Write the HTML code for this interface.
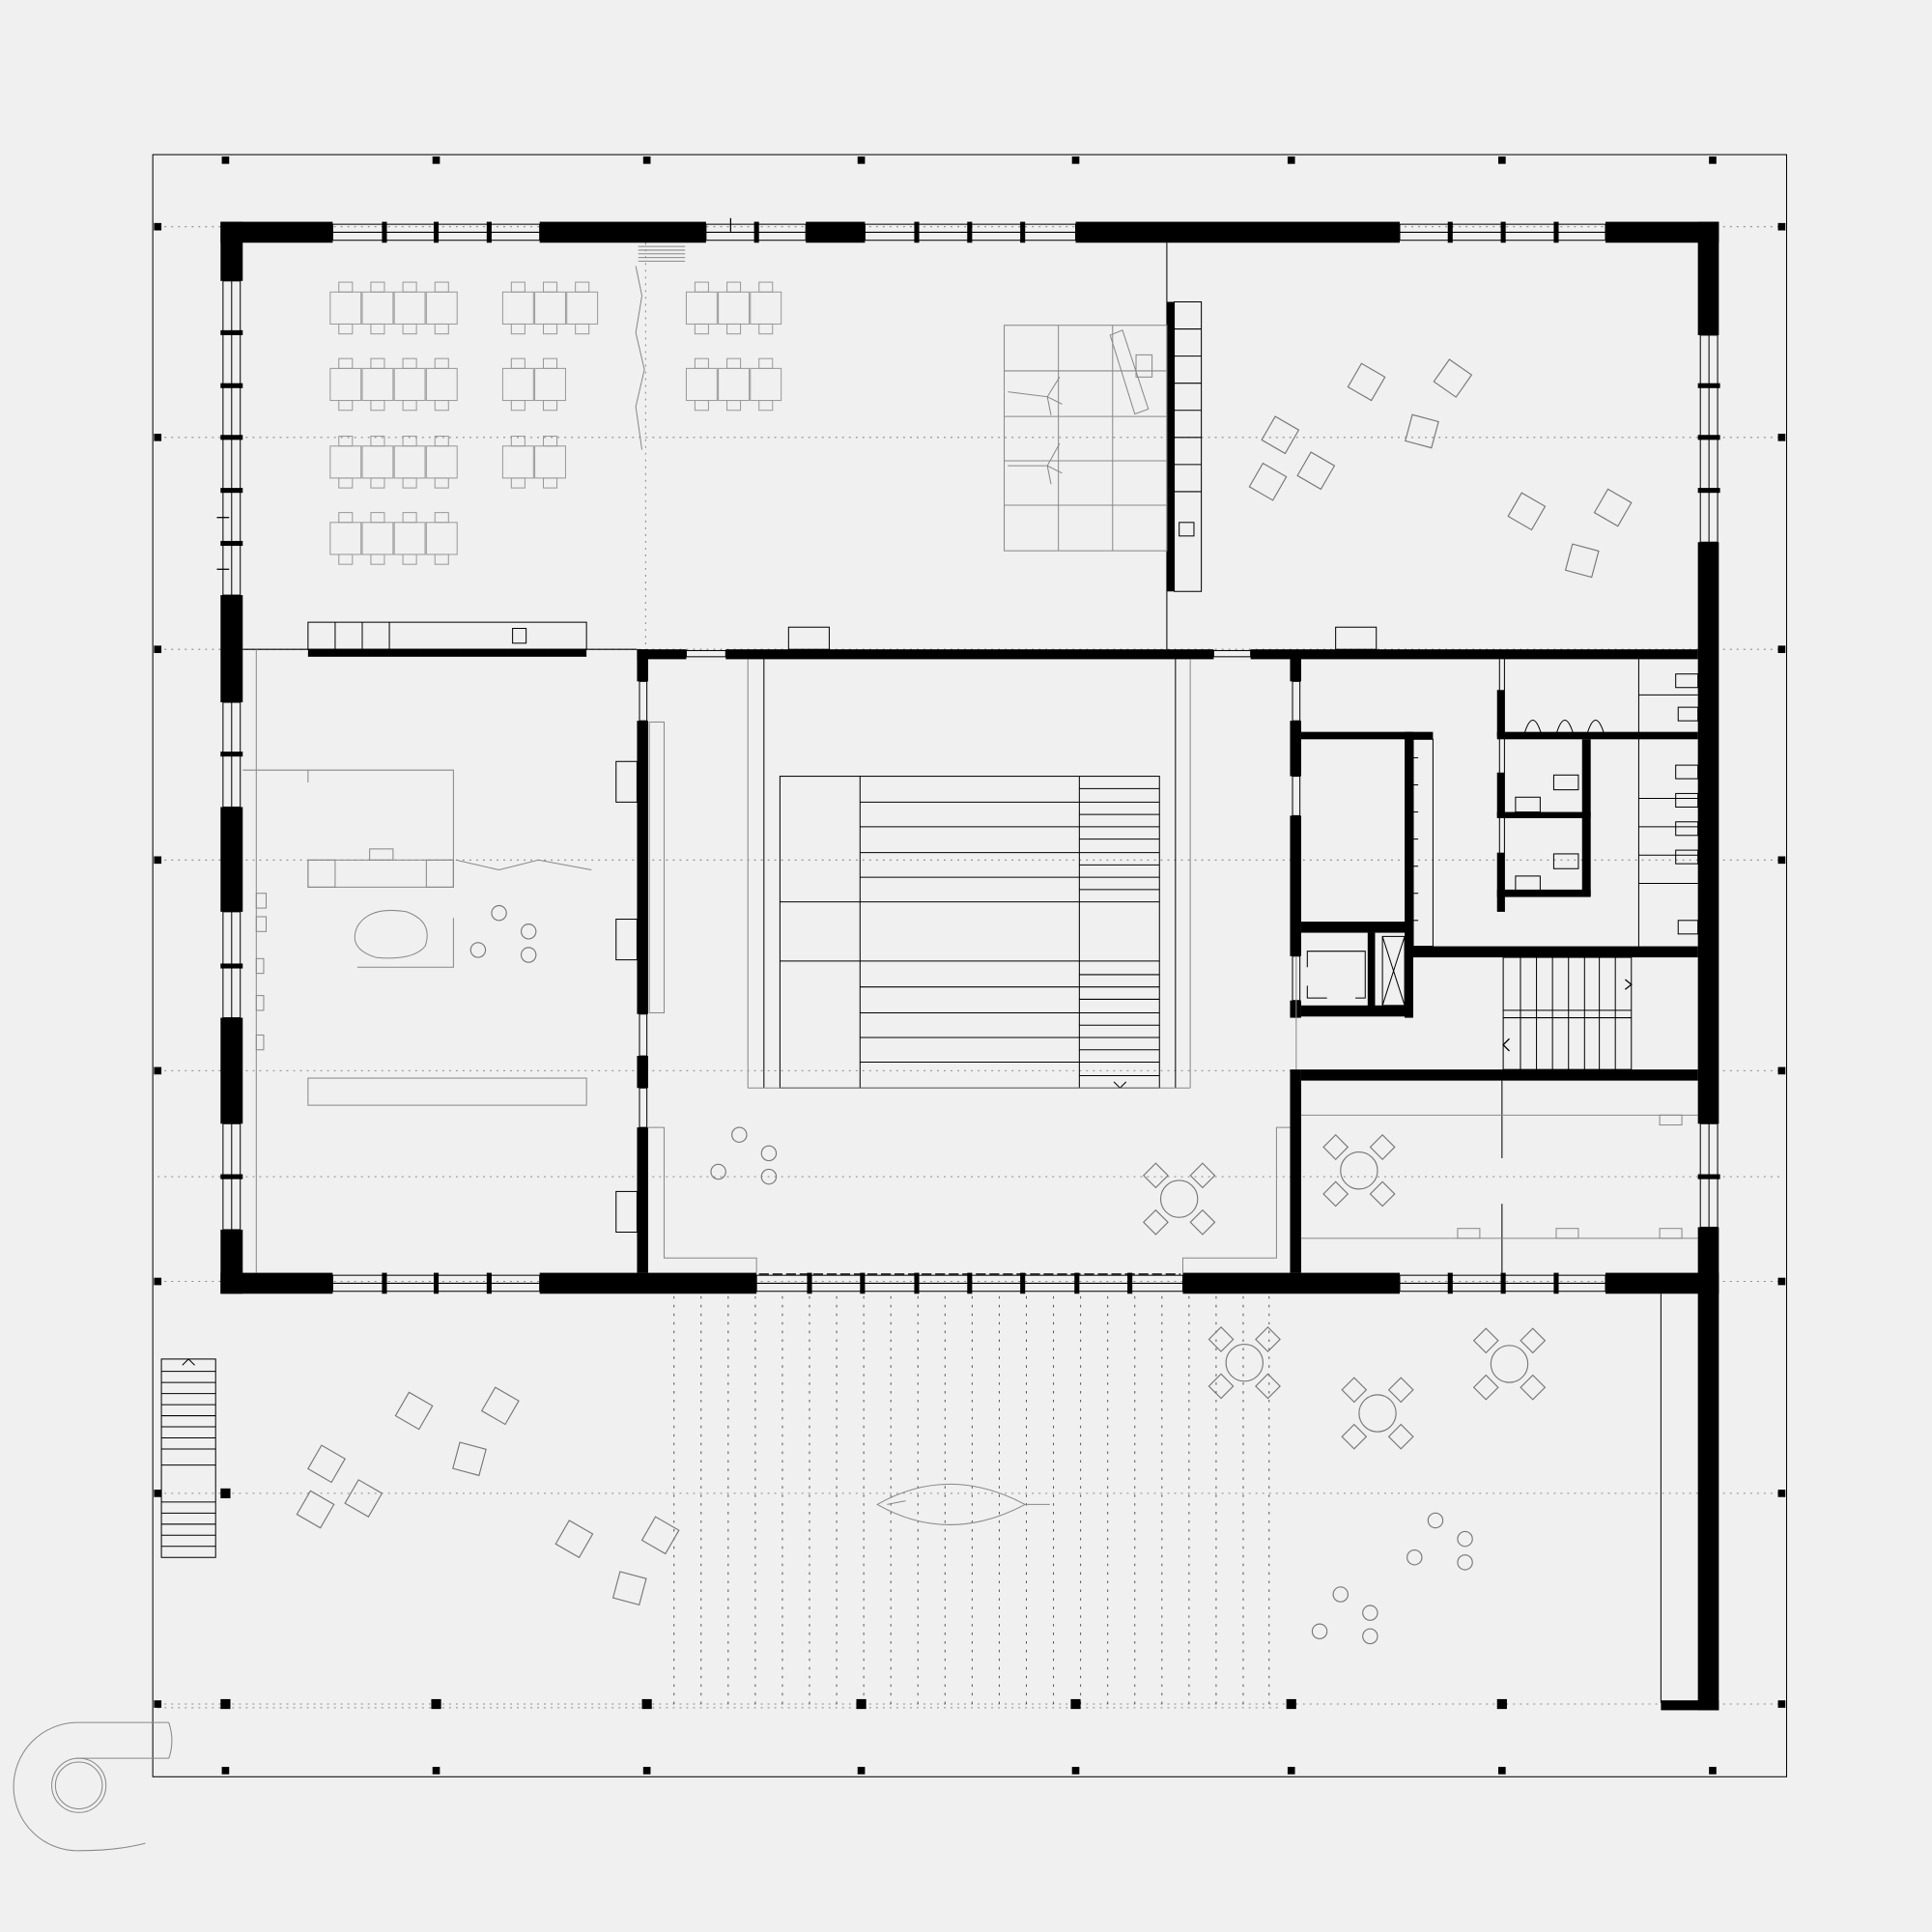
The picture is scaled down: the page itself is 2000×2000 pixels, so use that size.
<!DOCTYPE html>
<html><head><meta charset="utf-8"><style>html,body{margin:0;padding:0;background:#f0f0f0}svg{display:block}</style></head><body>
<svg width="2000" height="2000" viewBox="0 0 1568 1568" xmlns="http://www.w3.org/2000/svg">
<defs>
<g id="tb"><rect x="0" y="0" width="25" height="26" fill="none" stroke="#999" stroke-width="0.8"/><rect x="7" y="-8" width="11" height="8" fill="none" stroke="#999" stroke-width="0.8"/><rect x="7" y="26" width="11" height="8" fill="none" stroke="#999" stroke-width="0.8"/></g>
<rect id="ch" x="-11" y="-11" width="22" height="22" fill="none" stroke="#777" stroke-width="0.9"/>
<rect id="sc" x="-7" y="-7" width="14" height="14" fill="none" stroke="#777" stroke-width="0.9"/>
<g id="rt"><circle r="15" fill="none" stroke="#777" stroke-width="0.9"/><use href="#sc" transform="translate(-19,-19) rotate(45)"/><use href="#sc" transform="translate(19,-19) rotate(45)"/><use href="#sc" transform="translate(-19,19) rotate(45)"/><use href="#sc" transform="translate(19,19) rotate(45)"/></g>
<circle id="st" r="6" fill="none" stroke="#777" stroke-width="0.9"/>
</defs>
<rect width="1568" height="1568" fill="#f0f0f0"/>
<rect x="124" y="125.5" width="1326" height="1316.5" fill="none" stroke="#000" stroke-width="0.8"/>
<g stroke="#888" stroke-width="0.8" stroke-dasharray="1.5 4">
<line x1="128" y1="184" x2="1446" y2="184"/><line x1="128" y1="355" x2="1446" y2="355"/><line x1="128" y1="527" x2="1446" y2="527"/><line x1="128" y1="698" x2="1446" y2="698"/><line x1="128" y1="869" x2="1446" y2="869"/><line x1="128" y1="955" x2="1446" y2="955"/><line x1="128" y1="1040" x2="1446" y2="1040"/><line x1="128" y1="1212" x2="1446" y2="1212"/><line x1="128" y1="1383" x2="1446" y2="1383"/><line x1="128" y1="1386" x2="1040" y2="1386"/>
<line x1="524" y1="197" x2="524" y2="527"/>
</g>
<g stroke="#555" stroke-width="0.8" stroke-dasharray="2 5">
<line x1="547" y1="1052" x2="547" y2="1388"/><line x1="569" y1="1052" x2="569" y2="1388"/><line x1="591" y1="1052" x2="591" y2="1388"/><line x1="613" y1="1052" x2="613" y2="1388"/><line x1="635" y1="1052" x2="635" y2="1388"/><line x1="657" y1="1052" x2="657" y2="1388"/><line x1="679" y1="1052" x2="679" y2="1388"/><line x1="701" y1="1052" x2="701" y2="1388"/><line x1="723" y1="1052" x2="723" y2="1388"/><line x1="745" y1="1052" x2="745" y2="1388"/><line x1="767" y1="1052" x2="767" y2="1388"/><line x1="789" y1="1052" x2="789" y2="1388"/><line x1="811" y1="1052" x2="811" y2="1388"/><line x1="833" y1="1052" x2="833" y2="1388"/><line x1="855" y1="1052" x2="855" y2="1388"/><line x1="877" y1="1052" x2="877" y2="1388"/><line x1="899" y1="1052" x2="899" y2="1388"/><line x1="921" y1="1052" x2="921" y2="1388"/><line x1="943" y1="1052" x2="943" y2="1388"/><line x1="965" y1="1052" x2="965" y2="1388"/><line x1="987" y1="1052" x2="987" y2="1388"/><line x1="1009" y1="1052" x2="1009" y2="1388"/><line x1="1030" y1="1052" x2="1030" y2="1388"/>
</g>
<g fill="#000">
<rect x="180" y="127" width="6" height="6"/><rect x="351" y="127" width="6" height="6"/><rect x="522" y="127" width="6" height="6"/><rect x="696" y="127" width="6" height="6"/><rect x="870" y="127" width="6" height="6"/><rect x="1045" y="127" width="6" height="6"/><rect x="1216" y="127" width="6" height="6"/><rect x="1387" y="127" width="6" height="6"/>
<rect x="180" y="1434" width="6" height="6"/><rect x="351" y="1434" width="6" height="6"/><rect x="522" y="1434" width="6" height="6"/><rect x="696" y="1434" width="6" height="6"/><rect x="870" y="1434" width="6" height="6"/><rect x="1045" y="1434" width="6" height="6"/><rect x="1216" y="1434" width="6" height="6"/><rect x="1387" y="1434" width="6" height="6"/>
<rect x="179" y="1379" width="8" height="8"/><rect x="350" y="1379" width="8" height="8"/><rect x="521" y="1379" width="8" height="8"/><rect x="695" y="1379" width="8" height="8"/><rect x="869" y="1379" width="8" height="8"/><rect x="1044" y="1379" width="8" height="8"/><rect x="1215" y="1379" width="8" height="8"/><rect x="179" y="1208" width="8" height="8"/>
<rect x="125" y="181" width="6" height="6"/><rect x="125" y="352" width="6" height="6"/><rect x="125" y="524" width="6" height="6"/><rect x="125" y="695" width="6" height="6"/><rect x="125" y="866" width="6" height="6"/><rect x="125" y="1037" width="6" height="6"/><rect x="125" y="1209" width="6" height="6"/><rect x="125" y="1380" width="6" height="6"/>
<rect x="1443" y="181" width="6" height="6"/><rect x="1443" y="352" width="6" height="6"/><rect x="1443" y="524" width="6" height="6"/><rect x="1443" y="695" width="6" height="6"/><rect x="1443" y="866" width="6" height="6"/><rect x="1443" y="1037" width="6" height="6"/><rect x="1443" y="1209" width="6" height="6"/><rect x="1443" y="1380" width="6" height="6"/>
</g>
<g fill="none" stroke="#000" stroke-width="0.8">
<rect x="270" y="182" width="168" height="13"/><line x1="270" y1="188.5" x2="438" y2="188.5"/>
<rect x="573" y="182" width="81" height="13"/><line x1="573" y1="188.5" x2="654" y2="188.5"/>
<rect x="702" y="182" width="171" height="13"/><line x1="702" y1="188.5" x2="873" y2="188.5"/>
<rect x="1136" y="182" width="167" height="13"/><line x1="1136" y1="188.5" x2="1303" y2="188.5"/>
<rect x="270" y="1035" width="168" height="13"/><line x1="270" y1="1041.5" x2="438" y2="1041.5"/>
<rect x="614" y="1035" width="346" height="13"/><line x1="614" y1="1041.5" x2="960" y2="1041.5"/>
<rect x="1136" y="1035" width="167" height="13"/><line x1="1136" y1="1041.5" x2="1303" y2="1041.5"/>
<rect x="181" y="228" width="14" height="255"/><line x1="188" y1="228" x2="188" y2="483"/>
<rect x="181" y="570" width="14" height="85"/><line x1="188" y1="570" x2="188" y2="655"/>
<rect x="181" y="740" width="14" height="86"/><line x1="188" y1="740" x2="188" y2="826"/>
<rect x="181" y="912" width="14" height="86"/><line x1="188" y1="912" x2="188" y2="998"/>
<rect x="1380" y="272" width="14" height="168"/><line x1="1387" y1="272" x2="1387" y2="440"/>
<rect x="1380" y="912" width="14" height="84"/><line x1="1387" y1="912" x2="1387" y2="996"/>
<rect x="519" y="553" width="6" height="32"/><rect x="519" y="823" width="6" height="34"/><rect x="519" y="883" width="6" height="32"/>
<rect x="1049" y="553" width="6" height="32"/><rect x="1049" y="630" width="6" height="32"/><rect x="1049" y="776" width="6" height="36"/>
<rect x="557" y="528" width="32" height="5"/><rect x="985" y="528" width="30" height="5"/>
<line x1="1348" y1="1050" x2="1348" y2="1382"/>
</g>
<g fill="#000">
<rect x="310" y="180" width="4" height="17"/><rect x="352" y="180" width="4" height="17"/><rect x="395" y="180" width="4" height="17"/><rect x="612" y="180" width="4" height="17"/>
<rect x="742" y="180" width="4" height="17"/><rect x="785" y="180" width="4" height="17"/><rect x="828" y="180" width="4" height="17"/>
<rect x="1175" y="180" width="4" height="17"/><rect x="1218" y="180" width="4" height="17"/><rect x="1261" y="180" width="4" height="17"/>
<rect x="310" y="1033" width="4" height="17"/><rect x="352" y="1033" width="4" height="17"/><rect x="395" y="1033" width="4" height="17"/>
<rect x="655" y="1033" width="4" height="17"/><rect x="698" y="1033" width="4" height="17"/><rect x="742" y="1033" width="4" height="17"/><rect x="785" y="1033" width="4" height="17"/><rect x="828" y="1033" width="4" height="17"/><rect x="872" y="1033" width="4" height="17"/><rect x="915" y="1033" width="4" height="17"/>
<rect x="1175" y="1033" width="4" height="17"/><rect x="1218" y="1033" width="4" height="17"/><rect x="1261" y="1033" width="4" height="17"/>
<rect x="179" y="268" width="18" height="4"/><rect x="179" y="311" width="18" height="4"/><rect x="179" y="353" width="18" height="4"/><rect x="179" y="396" width="18" height="4"/><rect x="179" y="439" width="18" height="4"/>
<rect x="179" y="610" width="18" height="4"/><rect x="179" y="782" width="18" height="4"/><rect x="179" y="953" width="18" height="4"/>
<rect x="1378" y="311" width="18" height="4"/><rect x="1378" y="353" width="18" height="4"/><rect x="1378" y="396" width="18" height="4"/><rect x="1378" y="953" width="18" height="4"/>
</g>
<g fill="#000">
<rect x="179" y="180" width="91" height="17"/><rect x="438" y="180" width="135" height="17"/><rect x="654" y="180" width="48" height="17"/><rect x="873" y="180" width="263" height="17"/><rect x="1303" y="180" width="92" height="17"/>
<rect x="179" y="1033" width="91" height="17"/><rect x="438" y="1033" width="176" height="17"/><rect x="960" y="1033" width="176" height="17"/><rect x="1303" y="1033" width="92" height="17"/>
<rect x="179" y="180" width="18" height="48"/><rect x="179" y="483" width="18" height="87"/><rect x="179" y="655" width="18" height="85"/><rect x="179" y="826" width="18" height="86"/><rect x="179" y="998" width="18" height="52"/>
<rect x="1378" y="180" width="17" height="92"/><rect x="1378" y="440" width="17" height="472"/><rect x="1378" y="996" width="17" height="392"/><rect x="1348" y="1380" width="47" height="8"/>
<rect x="517" y="527" width="40" height="8"/><rect x="589" y="527" width="396" height="8"/><rect x="1015" y="527" width="363" height="8"/>
<rect x="250" y="527" width="226" height="6"/>
<rect x="517" y="527" width="9" height="26"/><rect x="517" y="585" width="9" height="238"/><rect x="517" y="857" width="9" height="26"/><rect x="517" y="915" width="9" height="118"/>
<rect x="1047" y="534" width="9" height="19"/><rect x="1047" y="585" width="9" height="45"/><rect x="1047" y="662" width="9" height="114"/><rect x="1047" y="812" width="9" height="14"/><rect x="1047" y="868" width="9" height="165"/>
<rect x="1056" y="594" width="107" height="6"/><rect x="1140" y="594" width="7" height="232"/><rect x="1056" y="748" width="91" height="9"/><rect x="1056" y="816" width="91" height="9"/><rect x="1110" y="757" width="6" height="60"/>
<rect x="1147" y="768" width="231" height="9"/><rect x="1056" y="868" width="322" height="9"/>
<rect x="1215" y="594" width="163" height="6"/><rect x="1215" y="560" width="6" height="38"/><rect x="1215" y="627" width="6" height="36"/><rect x="1215" y="692" width="6" height="48"/>
<rect x="1284" y="600" width="7" height="127"/><rect x="1215" y="659" width="76" height="5"/><rect x="1215" y="722" width="76" height="6"/>
<rect x="947" y="245" width="6" height="235"/>
</g>
<g fill="none" stroke="#000" stroke-width="0.8">
<line x1="947" y1="197" x2="947" y2="527"/><line x1="197" y1="527" x2="517" y2="527"/>
<rect x="953" y="245" width="22" height="235"/>
<line x1="953" y1="267" x2="975" y2="267"/><line x1="953" y1="289" x2="975" y2="289"/><line x1="953" y1="311" x2="975" y2="311"/><line x1="953" y1="333" x2="975" y2="333"/><line x1="953" y1="355" x2="975" y2="355"/><line x1="953" y1="377" x2="975" y2="377"/><line x1="953" y1="399" x2="975" y2="399"/>
<rect x="957" y="424" width="12" height="11"/>
<rect x="250" y="505" width="226" height="22"/><line x1="272" y1="505" x2="272" y2="527"/><line x1="294" y1="505" x2="294" y2="527"/><line x1="316" y1="505" x2="316" y2="527"/><rect x="416" y="510" width="11" height="12"/>
<rect x="640" y="509" width="33" height="18"/><rect x="1084" y="509" width="33" height="18"/>
<line x1="620" y1="535" x2="620" y2="883"/><line x1="954" y1="535" x2="954" y2="883"/>
<rect x="633" y="630" width="308" height="253"/><line x1="698" y1="630" x2="698" y2="883"/><line x1="876" y1="630" x2="876" y2="883"/>
<line x1="633" y1="732" x2="698" y2="732"/><line x1="633" y1="780" x2="698" y2="780"/>
<line x1="698" y1="651" x2="941" y2="651"/><line x1="698" y1="671" x2="941" y2="671"/><line x1="698" y1="692" x2="941" y2="692"/><line x1="698" y1="712" x2="941" y2="712"/><line x1="698" y1="732" x2="941" y2="732"/><line x1="698" y1="780" x2="941" y2="780"/><line x1="698" y1="801" x2="941" y2="801"/><line x1="698" y1="822" x2="941" y2="822"/><line x1="698" y1="842" x2="941" y2="842"/><line x1="698" y1="862" x2="941" y2="862"/>
<line x1="876" y1="640" x2="941" y2="640"/><line x1="876" y1="661" x2="941" y2="661"/><line x1="876" y1="681" x2="941" y2="681"/><line x1="876" y1="702" x2="941" y2="702"/><line x1="876" y1="722" x2="941" y2="722"/><line x1="876" y1="791" x2="941" y2="791"/><line x1="876" y1="811" x2="941" y2="811"/><line x1="876" y1="832" x2="941" y2="832"/><line x1="876" y1="852" x2="941" y2="852"/><line x1="876" y1="873" x2="941" y2="873"/>
<path d="M904 878 L909 883 L914 878"/>
<rect x="500" y="618" width="17" height="33"/><rect x="500" y="746" width="17" height="33"/><rect x="500" y="967" width="17" height="33"/>
<rect x="1147" y="600" width="16" height="168"/>
<line x1="1147" y1="615" x2="1151" y2="615"/><line x1="1147" y1="637" x2="1151" y2="637"/><line x1="1147" y1="659" x2="1151" y2="659"/><line x1="1147" y1="681" x2="1151" y2="681"/><line x1="1147" y1="703" x2="1151" y2="703"/><line x1="1147" y1="725" x2="1151" y2="725"/><line x1="1147" y1="747" x2="1151" y2="747"/>
<path d="M1061 785 L1061 772 L1108 772 L1108 810 L1100 810 M1061 800 L1061 810 L1077 810"/><rect x="1122" y="760" width="18" height="56"/><line x1="1122" y1="760" x2="1140" y2="816"/><line x1="1140" y1="760" x2="1122" y2="816"/><rect x="1073" y="817" width="33" height="7"/>
<line x1="1217" y1="535" x2="1217" y2="740"/><line x1="1221" y1="535" x2="1221" y2="740"/>
<line x1="1330" y1="535" x2="1330" y2="768"/>
<line x1="1330" y1="564" x2="1378" y2="564"/><line x1="1330" y1="648" x2="1378" y2="648"/><line x1="1330" y1="671" x2="1378" y2="671"/><line x1="1330" y1="694" x2="1378" y2="694"/><line x1="1330" y1="717" x2="1378" y2="717"/>
<rect x="1360" y="547" width="18" height="11"/><rect x="1362" y="574" width="16" height="11"/><rect x="1360" y="621" width="18" height="11"/><rect x="1360" y="644" width="18" height="11"/><rect x="1360" y="667" width="18" height="11"/><rect x="1360" y="690" width="18" height="11"/><rect x="1362" y="747" width="16" height="11"/>
<rect x="1261" y="629" width="20" height="12"/><rect x="1230" y="647" width="20" height="12"/><rect x="1261" y="693" width="20" height="12"/><rect x="1230" y="711" width="20" height="12"/>
<path d="M1237 596 Q1244 573 1251 596 M1263 596 Q1270 573 1277 596 M1288 596 Q1295 573 1302 596"/>
<rect x="1220" y="777" width="104" height="91"/><line x1="1220" y1="820" x2="1324" y2="820"/><line x1="1220" y1="826" x2="1324" y2="826"/>
<line x1="1234" y1="777" x2="1234" y2="868"/><line x1="1247" y1="777" x2="1247" y2="868"/><line x1="1260" y1="777" x2="1260" y2="868"/><line x1="1273" y1="777" x2="1273" y2="868"/><line x1="1286" y1="777" x2="1286" y2="868"/><line x1="1298" y1="777" x2="1298" y2="868"/><line x1="1311" y1="777" x2="1311" y2="868"/>
<line x1="1219" y1="877" x2="1219" y2="940"/><line x1="1219" y1="977" x2="1219" y2="1033"/>
<rect x="131" y="1103" width="44" height="161"/><line x1="131" y1="1189" x2="175" y2="1189"/>
<line x1="131" y1="1113" x2="175" y2="1113"/><line x1="131" y1="1122" x2="175" y2="1122"/><line x1="131" y1="1131" x2="175" y2="1131"/><line x1="131" y1="1140" x2="175" y2="1140"/><line x1="131" y1="1149" x2="175" y2="1149"/><line x1="131" y1="1158" x2="175" y2="1158"/><line x1="131" y1="1167" x2="175" y2="1167"/><line x1="131" y1="1176" x2="175" y2="1176"/>
<line x1="131" y1="1219" x2="175" y2="1219"/><line x1="131" y1="1228" x2="175" y2="1228"/><line x1="131" y1="1237" x2="175" y2="1237"/><line x1="131" y1="1246" x2="175" y2="1246"/><line x1="131" y1="1255" x2="175" y2="1255"/>
<path d="M148 1108 L153 1103 L158 1108"/>
</g>
<g fill="none" stroke="#888" stroke-width="0.8">
<line x1="208" y1="527" x2="208" y2="1033"/><line x1="607" y1="535" x2="607" y2="883"/><line x1="966" y1="535" x2="966" y2="883"/><line x1="607" y1="883" x2="966" y2="883"/>
<rect x="527" y="586" width="12" height="236"/>
<path d="M526 915 L539 915 L539 1021 L614 1021 L614 1033 M1047 915 L1036 915 L1036 1021 L960 1021 L960 1033"/>
<line x1="1056" y1="905" x2="1378" y2="905"/><line x1="1056" y1="1005" x2="1378" y2="1005"/>
<rect x="1347" y="905" width="18" height="8"/><rect x="1183" y="997" width="18" height="8"/><rect x="1263" y="997" width="18" height="8"/><rect x="1347" y="997" width="18" height="8"/>
<line x1="1052" y1="776" x2="1052" y2="868"/>
<rect x="250" y="875" width="226" height="22"/>
<rect x="815" y="264" width="132" height="183"/><line x1="859" y1="264" x2="859" y2="447"/><line x1="903" y1="264" x2="903" y2="447"/>
<line x1="815" y1="301" x2="947" y2="301"/><line x1="815" y1="338" x2="947" y2="338"/><line x1="815" y1="374" x2="947" y2="374"/><line x1="815" y1="410" x2="947" y2="410"/>
<path d="M901 272 L911 268 L932 332 L921 336 Z"/><rect x="922" y="288" width="13" height="18"/>
<path d="M818 318 L850 322 L860 306 M850 322 L862 328 M850 322 L853 337 M818 378 L850 378 L860 360 M850 378 L862 384 M850 378 L853 393"/>
<path d="M518 200 L556 200 M518 203 L556 203 M518 206 L556 206 M518 209 L556 209 M518 212 L556 212 M516 216 L521 240 L516 270 L523 300 L516 330 L521 365"/>
<path d="M197 625 L250 625 L250 635 M250 625 L368 625 L368 720 M368 745 L368 785 L290 785"/>
<rect x="250" y="698" width="118" height="22"/><rect x="250" y="698" width="22" height="22"/><rect x="346" y="698" width="22" height="22"/><rect x="300" y="689" width="19" height="9"/>
<path d="M370 698 L405 706 L437 698 L480 706"/>
<path d="M290 752 Q300 735 330 740 Q352 748 345 768 Q335 780 305 777 Q282 770 290 752 Z"/>
<rect x="208" y="725" width="8" height="12"/><rect x="208" y="744" width="8" height="12"/><rect x="208" y="778" width="6" height="12"/><rect x="208" y="808" width="6" height="12"/><rect x="208" y="840" width="6" height="12"/>
<path d="M712 1221 Q770 1188 832 1221 Q770 1254 712 1221 Z M832 1221 L852 1221 M720 1221 L735 1218"/>
<path d="M137 1398 L62 1398 A52 52 0 0 0 64 1502 Q95 1502 118 1496 M137 1398 Q142 1413 137 1427 L62 1427"/>
<circle cx="64" cy="1449" r="22"/><circle cx="64" cy="1449" r="19"/>
</g>
<g>
<use href="#tb" x="268" y="237"/><use href="#tb" x="294" y="237"/><use href="#tb" x="320" y="237"/><use href="#tb" x="346" y="237"/>
<use href="#tb" x="268" y="299"/><use href="#tb" x="294" y="299"/><use href="#tb" x="320" y="299"/><use href="#tb" x="346" y="299"/>
<use href="#tb" x="268" y="362"/><use href="#tb" x="294" y="362"/><use href="#tb" x="320" y="362"/><use href="#tb" x="346" y="362"/>
<use href="#tb" x="268" y="424"/><use href="#tb" x="294" y="424"/><use href="#tb" x="320" y="424"/><use href="#tb" x="346" y="424"/>
<use href="#tb" x="408" y="237"/><use href="#tb" x="434" y="237"/><use href="#tb" x="460" y="237"/>
<use href="#tb" x="408" y="299"/><use href="#tb" x="434" y="299"/><use href="#tb" x="408" y="362"/><use href="#tb" x="434" y="362"/>
<use href="#tb" x="557" y="237"/><use href="#tb" x="583" y="237"/><use href="#tb" x="609" y="237"/>
<use href="#tb" x="557" y="299"/><use href="#tb" x="583" y="299"/><use href="#tb" x="609" y="299"/>
</g>
<g>
<use href="#ch" transform="translate(1109,310) rotate(30)"/><use href="#ch" transform="translate(1179,307) rotate(35)"/><use href="#ch" transform="translate(1039,353) rotate(30)"/><use href="#ch" transform="translate(1154,350) rotate(15)"/><use href="#ch" transform="translate(1029,391) rotate(30)"/><use href="#ch" transform="translate(1068,382) rotate(30)"/><use href="#ch" transform="translate(1239,415) rotate(30)"/><use href="#ch" transform="translate(1309,412) rotate(30)"/><use href="#ch" transform="translate(1284,455) rotate(15)"/>
<use href="#ch" transform="translate(336,1145) rotate(30)"/><use href="#ch" transform="translate(406,1141) rotate(30)"/><use href="#ch" transform="translate(265,1188) rotate(30)"/><use href="#ch" transform="translate(381,1184) rotate(15)"/><use href="#ch" transform="translate(256,1225) rotate(30)"/><use href="#ch" transform="translate(295,1216) rotate(30)"/><use href="#ch" transform="translate(466,1249) rotate(30)"/><use href="#ch" transform="translate(536,1246) rotate(30)"/><use href="#ch" transform="translate(511,1289) rotate(15)"/>
<use href="#rt" x="957" y="973"/><use href="#rt" x="1103" y="950"/><use href="#rt" x="1010" y="1106"/><use href="#rt" x="1118" y="1147"/><use href="#rt" x="1225" y="1107"/>
<use href="#st" x="405" y="741"/><use href="#st" x="429" y="756"/><use href="#st" x="388" y="771"/><use href="#st" x="429" y="775"/>
<use href="#st" x="600" y="921"/><use href="#st" x="624" y="936"/><use href="#st" x="583" y="951"/><use href="#st" x="624" y="955"/>
<use href="#st" x="1165" y="1234"/><use href="#st" x="1189" y="1249"/><use href="#st" x="1148" y="1264"/><use href="#st" x="1189" y="1268"/>
<use href="#st" x="1088" y="1294"/><use href="#st" x="1112" y="1309"/><use href="#st" x="1071" y="1324"/><use href="#st" x="1112" y="1328"/>
</g>
<g stroke="#000" stroke-width="1" fill="none"><line x1="593" y1="177" x2="593" y2="188"/><line x1="176" y1="420" x2="186" y2="420"/><line x1="176" y1="462" x2="186" y2="462"/><path d="M1319 795 L1324 799 L1319 803 M1225 843 L1220 848 L1225 853"/><line x1="616" y1="1034" x2="958" y2="1034" stroke-dasharray="8 3"/></g>
</svg>
</body></html>
